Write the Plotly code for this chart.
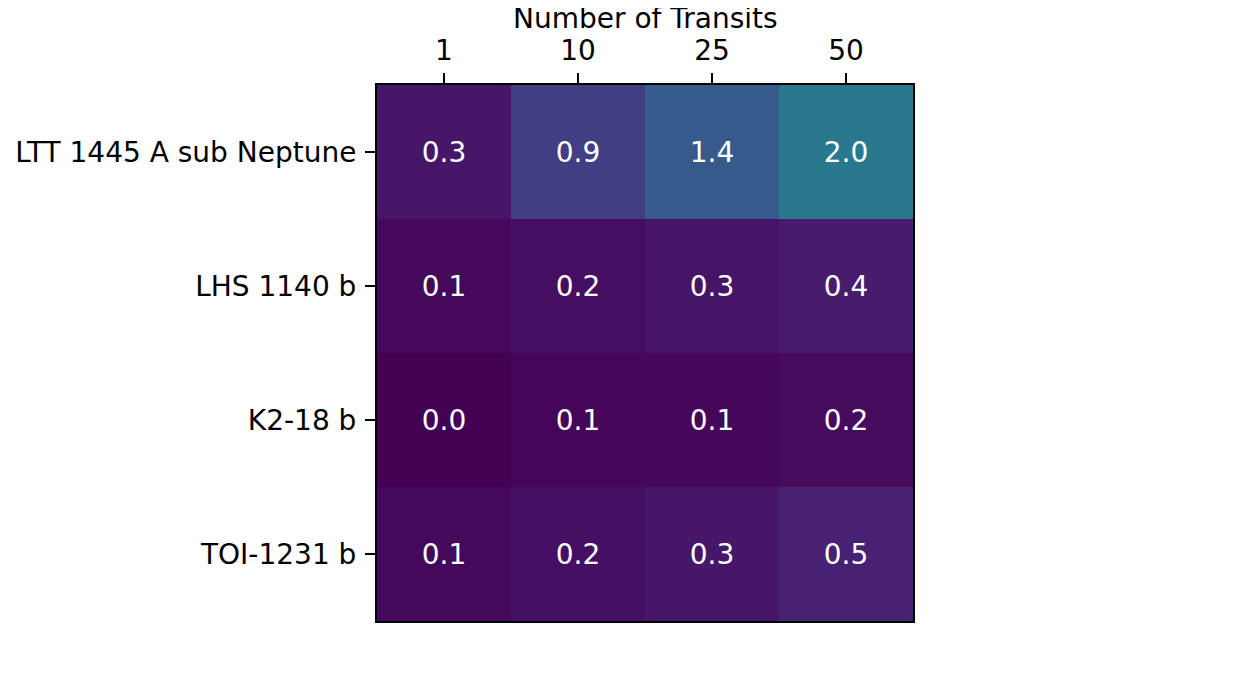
import plotly.graph_objects as go

# 数据
transits = ["1", "10", "25", "50"]
planets = ["LTT 1445 A sub Neptune", "LHS 1140 b", "K2-18 b", "TOI-1231 b"]
ltt_1445 = [0.31, 0.93, 1.42, 2.01]
lhs_1140 = [0.10, 0.19, 0.29, 0.38]
k2_18 = [0.02, 0.07, 0.09, 0.16]
toi_1231 = [0.11, 0.21, 0.32, 0.46]

z = [ltt_1445, lhs_1140, k2_18, toi_1231]

fig = go.Figure(go.Heatmap(
    z=z,
    x=transits,
    y=planets,
    colorscale="Viridis",
    zmin=0,
    zmax=5,
    showscale=False,
    texttemplate="%{z:.1f}",
    textfont=dict(color="white", size=28, family="DejaVu Sans"),
    hoverinfo="skip",
))

fig.update_layout(
    width=1260,
    height=700,
    paper_bgcolor="white",
    plot_bgcolor="white",
    margin=dict(l=369, r=355, t=77, b=87),
    font=dict(family="DejaVu Sans", size=28, color="black"),
)
# x轴标题 (放在刻度上方)
fig.add_annotation(
    text="Number of Transits", xref="paper", yref="paper",
    x=0.5, y=1, yanchor="bottom", yshift=48, showarrow=False,
    font=dict(size=28, color="black"),
)
fig.update_xaxes(
    side="top",
    automargin=False,
    ticks="outside", ticklen=10, tickwidth=2, tickcolor="black",
    ticklabelstandoff=2,
    showline=True, mirror=True, linecolor="black", linewidth=2,
    showgrid=False, zeroline=False,
)
fig.update_yaxes(
    autorange="reversed",
    automargin=False,
    ticks="outside", ticklen=10, tickwidth=2, tickcolor="black",
    ticklabelstandoff=3,
    showline=True, mirror=True, linecolor="black", linewidth=2,
    showgrid=False, zeroline=False,
)

fig.write_html("out.html")
